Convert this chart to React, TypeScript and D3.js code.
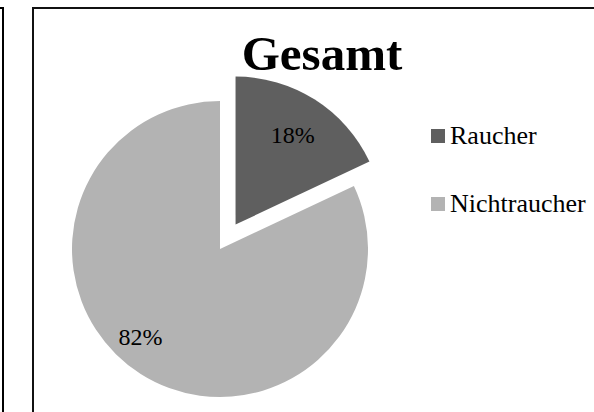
import React from "react";
import * as d3 from "d3";

const categories = ["Raucher", "Nichtraucher"];
const values = [18, 82];
const labels = ["18%", "82%"];
const colors = ["#5f5f5f", "#b3b3b3"];
const title = "Gesamt";

export default function App() {
  const W = 594;
  const H = 412;
  const cx = 220;
  const cy = 249;
  const r = 148;
  const explode = 29;
  const font = "'Liberation Serif', 'Times New Roman', serif";

  const pie = d3
    .pie<number>()
    .sort(null)
    .value((d) => d)
    .startAngle(0)
    .endAngle(2 * Math.PI);
  const arcs = pie(values);
  const arc = d3.arc<d3.PieArcDatum<number>>().innerRadius(0).outerRadius(r);

  // label placement: fraction of radius and angular adjustment (radians)
  const labelFrac = [0.72, 0.8];
  const labelAngleAdj = [0, 0.17];

  return (
    <svg
      width={W}
      height={H}
      style={{ position: "absolute", left: 0, top: 0, background: "#fff" }}
    >
      <rect x={0} y={0} width={W} height={H} fill="#fff" />
      {/* neighbouring chart frame (partial) */}
      <rect x={-300} y={8} width={303} height={460} fill="none" stroke="#000" strokeWidth={2} />
      {/* chart frame */}
      <rect x={33} y={8} width={600} height={460} fill="none" stroke="#111" strokeWidth={2} />
      <text
        x={322}
        y={70}
        textAnchor="middle"
        fontFamily={font}
        fontWeight="bold"
        fontSize={49}
        fill="#000"
      >
        {title}
      </text>
      {arcs.map((a, i) => {
        const mid = (a.startAngle + a.endAngle) / 2;
        const off = i === 0 ? explode : 0;
        const ox = cx + Math.sin(mid) * off;
        const oy = cy - Math.cos(mid) * off;
        const la = mid + labelAngleAdj[i];
        const lx = ox + Math.sin(la) * r * labelFrac[i];
        const ly = oy - Math.cos(la) * r * labelFrac[i];
        return (
          <g key={categories[i]}>
            <path d={arc(a) || ""} transform={`translate(${ox},${oy})`} fill={colors[i]} />
            <text
              x={lx}
              y={ly}
              textAnchor="middle"
              dominantBaseline="central"
              fontFamily={font}
              fontSize={24}
              fill="#000"
            >
              {labels[i]}
            </text>
          </g>
        );
      })}
      {categories.map((c, i) => (
        <g key={c} transform={`translate(431,${129 + i * 68})`}>
          <rect x={0} y={0} width={14} height={14} fill={colors[i]} />
          <text x={19} y={15} fontFamily={font} fontSize={26} fill="#000">
            {c}
          </text>
        </g>
      ))}
    </svg>
  );
}
